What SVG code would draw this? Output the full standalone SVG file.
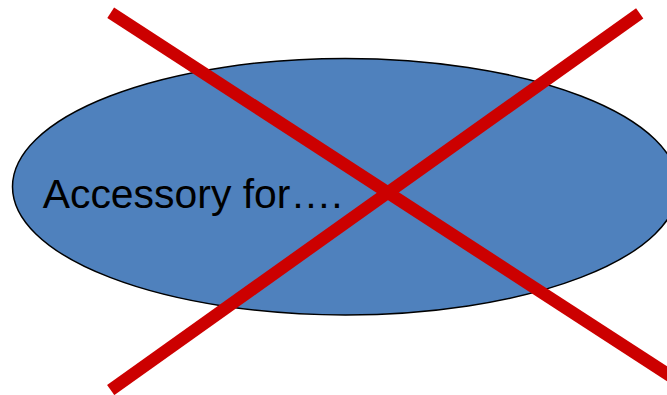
<svg xmlns="http://www.w3.org/2000/svg" width="667" height="395" viewBox="0 0 667 395">
  <style>
    .shape { fill: #4F81BD; stroke: #000000; stroke-width: 1.5; }
    .label { font-family: "Liberation Sans", Arial, sans-serif; font-size: 41px; fill: #000000; }
    .cross { stroke: #CC0000; stroke-width: 12.5; stroke-linecap: butt; fill: none; }
  </style>
  <rect x="0" y="0" width="667" height="395" fill="#FFFFFF"/>
  <g id="node-accessory">
    <ellipse class="shape" cx="345.5" cy="186.7" rx="333" ry="128.3"/>
    <text class="label" x="42.7" y="208" textLength="300" lengthAdjust="spacingAndGlyphs">Accessory for….</text>
  </g>
  <g id="connectors">
    <line class="cross" x1="110.7" y1="12.8" x2="690" y2="388.7"/>
    <line class="cross" x1="639.7" y1="13.3" x2="110.7" y2="390"/>
  </g>
</svg>
